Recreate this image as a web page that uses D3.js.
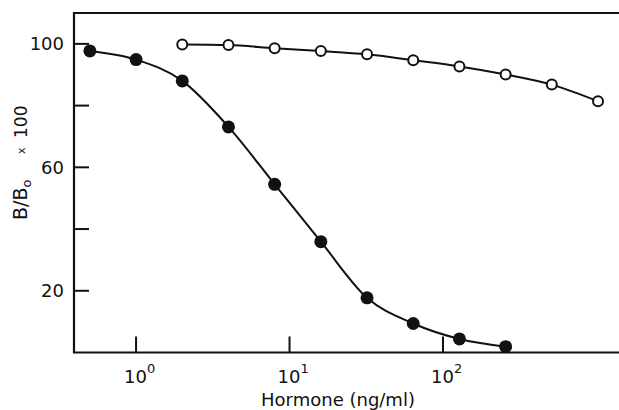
<!DOCTYPE html>
<html>
<head>
<meta charset="utf-8">
<script src="https://cdn.jsdelivr.net/npm/d3@7"></script>
<style>
  body { margin: 0; background: #fff; }
  svg text { font-family: "DejaVu Sans", sans-serif; fill: #111; }
</style>
</head>
<body>
<div id="chart"></div>
<script>
// hormone concentration (ng/ml)
var doseFilled = [0.5, 1, 2, 4, 8, 16, 32, 64, 128, 256];
var bFilled = [97.7, 94.9, 88, 73.1, 54.5, 35.9, 17.7, 9.4, 4.4, 1.9];

var doseOpen = [2, 4, 8, 16, 32, 64, 128, 256, 512, 1024];
var bOpen = [99.8, 99.6, 98.6, 97.7, 96.6, 94.7, 92.7, 90.1, 86.8, 81.4];

var yTicks = [20, 40, 60, 80, 100];
var yLabels = [20, 60, 100];
var xTicks = [1, 10, 100];

var width = 619
var height = 410
var margin = {top: 13, right: 0, bottom: 57.5, left: 74}

var svg = d3.select("#chart")
  .append("svg")
    .attr("width", width)
    .attr("height", height)

var x = d3.scaleLog()
  .domain([0.394, 1403])
  .range([margin.left, width - margin.right])

var y = d3.scaleLinear()
  .domain([0, 110])
  .range([height - margin.bottom, margin.top])

// frame: left, top, bottom (no right side)
var x0 = margin.left, x1 = width - margin.right
var yb = y(0), yt = y(110)
svg.append("path")
  .attr("d", "M" + x1 + "," + yt + "H" + x0 + "V" + yb + "H" + x1)
  .attr("fill", "none")
  .attr("stroke", "#111")
  .attr("stroke-width", 2.2)

// y ticks (inward)
svg.selectAll(".ytick")
  .data(yTicks)
  .enter()
  .append("line")
    .attr("x1", x0)
    .attr("x2", x0 + 15)
    .attr("y1", function(d) { return y(d) })
    .attr("y2", function(d) { return y(d) })
    .attr("stroke", "#111")
    .attr("stroke-width", 2)

svg.selectAll(".ylab")
  .data(yLabels)
  .enter()
  .append("text")
    .attr("x", x0 - 10)
    .attr("y", function(d) { return y(d) + 6.5 })
    .attr("text-anchor", "end")
    .style("font-size", "18px")
    .text(function(d) { return d })

// x ticks (inward)
svg.selectAll(".xtick")
  .data(xTicks)
  .enter()
  .append("line")
    .attr("x1", function(d) { return x(d) })
    .attr("x2", function(d) { return x(d) })
    .attr("y1", yb)
    .attr("y2", yb - 16)
    .attr("stroke", "#111")
    .attr("stroke-width", 2)

var xl = svg.selectAll(".xlab")
  .data(xTicks)
  .enter()
  .append("text")
    .attr("x", function(d) { return x(d) - 12 })
    .attr("y", yb + 30)
    .style("font-size", "18px")
xl.append("tspan").text("10")
xl.append("tspan")
  .attr("dy", -10)
  .style("font-size", "13px")
  .text(function(d) { return Math.round(Math.log10(d)) })

// axis titles
svg.append("text")
  .attr("x", 338)
  .attr("y", 406)
  .attr("text-anchor", "middle")
  .style("font-size", "18px")
  .text("Hormone (ng/ml)")

var ylab = svg.append("text")
  .attr("transform", "translate(27,220) rotate(-90)")
ylab.append("tspan").attr("x", 0).style("font-size", "19px").text("B/B")
ylab.append("tspan").attr("dy", 4).style("font-size", "13px").text("o")
ylab.append("tspan").attr("x", 66).attr("dy", -6).style("font-size", "11px").text("x")
ylab.append("tspan").attr("x", 82).attr("dy", 2).style("font-size", "17px").text("100")

// curves
var line = d3.line()
  .x(function(d) { return x(d[0]) })
  .y(function(d) { return y(d[1]) })
  .curve(d3.curveMonotoneX)

var filled = d3.zip(doseFilled, bFilled)
var open = d3.zip(doseOpen, bOpen)

svg.append("path")
  .attr("d", line(filled))
  .attr("fill", "none")
  .attr("stroke", "#111")
  .attr("stroke-width", 2)

svg.append("path")
  .attr("d", line(open))
  .attr("fill", "none")
  .attr("stroke", "#111")
  .attr("stroke-width", 2)

svg.selectAll(".pf")
  .data(filled)
  .enter()
  .append("circle")
    .attr("cx", function(d) { return x(d[0]) })
    .attr("cy", function(d) { return y(d[1]) })
    .attr("r", 6.5)
    .attr("fill", "#111")

svg.selectAll(".po")
  .data(open)
  .enter()
  .append("circle")
    .attr("cx", function(d) { return x(d[0]) })
    .attr("cy", function(d) { return y(d[1]) })
    .attr("r", 5)
    .attr("fill", "#fff")
    .attr("stroke", "#111")
    .attr("stroke-width", 2)
</script>
</body>
</html>
